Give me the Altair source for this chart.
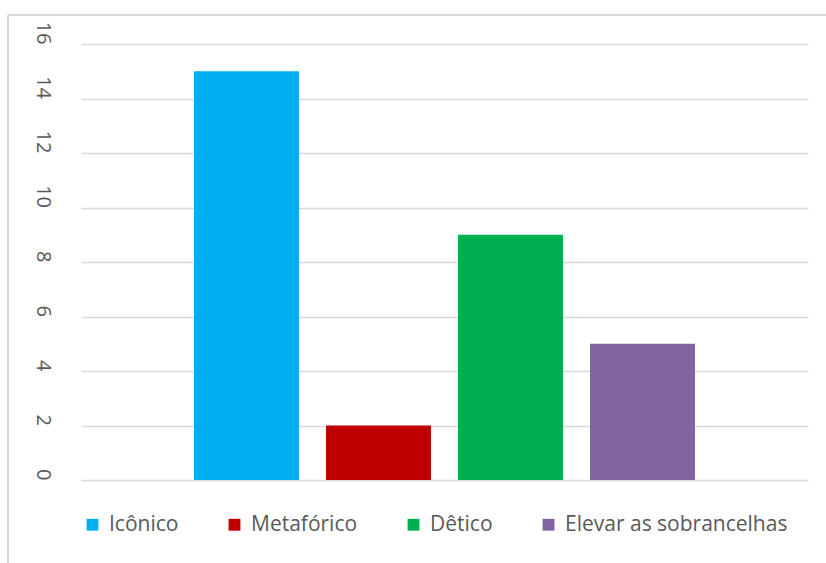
import altair as alt
import pandas as pd

series = ["Icônico", "Metafórico", "Dêtico", "Elevar as sobrancelhas"]
values = [15, 2, 9, 5]
colors = ["#00B0F0", "#C00000", "#00B050", "#8064A2"]
y_ticks = [0, 2, 4, 6, 8, 10, 12, 14, 16]

df = pd.DataFrame({"serie": series, "valor": values})

FONT = "Open Sans"

bars = alt.Chart(df).mark_bar().encode(
    x=alt.X("serie:N", sort=series, axis=None,
            scale=alt.Scale(paddingInner=0.205, paddingOuter=0.856)),
    y=alt.Y("valor:Q",
            scale=alt.Scale(domain=[0, 16], nice=False),
            axis=alt.Axis(values=y_ticks, title=None, domain=False, ticks=False,
                          labelAngle=90, labelAlign="right", labelBaseline="middle",
                          labelPadding=39, labelFont=FONT, labelFontSize=20,
                          labelColor="#595959", gridColor="#D9D9D9", gridWidth=1.3)),
    color=alt.Color("serie:N", sort=series,
                    scale=alt.Scale(domain=series, range=colors),
                    legend=alt.Legend(title=None, orient="none", direction="horizontal",
                                      legendX=1, legendY=470,
                                      symbolType="square", symbolSize=140,
                                      symbolStrokeWidth=0, labelFont=FONT,
                                      labelFontSize=21, labelColor="#595959",
                                      labelLimit=400, columnPadding=45,
                                      labelOffset=6)),
)

frame_top = alt.Chart(df).mark_rule(color="#D9D9D9", strokeWidth=1.5).encode(
    x=alt.value(-73), x2=alt.value(745), y=alt.value(-29)
)
frame_left = alt.Chart(df).mark_rule(color="#D9D9D9", strokeWidth=1.5).encode(
    x=alt.value(-73), y=alt.value(-29), y2=alt.value(520)
)

chart = alt.layer(frame_top, frame_left, bars).properties(
    width=727, height=436,
    autosize=alt.AutoSizeParams(type="none"),
    padding={"left": 81, "top": 44, "right": 18, "bottom": 83},
    background="white",
).configure_view(stroke=None)

chart.save("out.html", embed_options={"renderer": "svg", "actions": False})
